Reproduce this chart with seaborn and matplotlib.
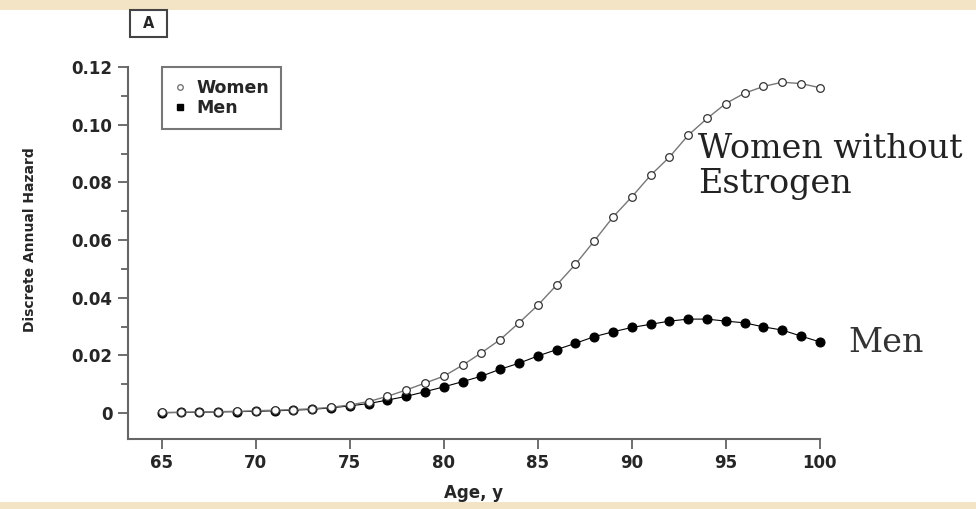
import matplotlib
matplotlib.use("Agg")
import matplotlib.pyplot as plt
import seaborn as sns
from matplotlib.lines import Line2D
from matplotlib.patches import Rectangle

# Discrete annual hazard by age
ages = list(range(65, 101))
women = [0.0002, 0.0003, 0.0004, 0.0005, 0.0006, 0.0008, 0.0010, 0.0012, 0.0015, 0.0020,
         0.0028, 0.0040, 0.0058, 0.0080, 0.0104, 0.0128, 0.0166, 0.0209, 0.0255, 0.0313,
         0.0374, 0.0444, 0.0516, 0.0597, 0.0680, 0.0750, 0.0825, 0.0888, 0.0964, 0.1022,
         0.1074, 0.1110, 0.1133, 0.1148, 0.1143, 0.1129]
men = [0.0001, 0.0002, 0.0003, 0.0004, 0.0005, 0.0006, 0.0008, 0.0010, 0.0013, 0.0018,
       0.0025, 0.0033, 0.0045, 0.0058, 0.0074, 0.0091, 0.0109, 0.0128, 0.0152, 0.0173,
       0.0198, 0.0220, 0.0242, 0.0265, 0.0282, 0.0297, 0.0308, 0.0319, 0.0326, 0.0326,
       0.0319, 0.0313, 0.0299, 0.0288, 0.0267, 0.0247]

x_ticks = [65, 70, 75, 80, 85, 90, 95, 100]
y_ticks = [0, 0.02, 0.04, 0.06, 0.08, 0.10, 0.12]
y_ticklabels = ["0", "0.02", "0.04", "0.06", "0.08", "0.10", "0.12"]

sns.set_style("ticks")
plt.rcParams['font.family'] = ['DejaVu Sans']

fig = plt.figure(figsize=(9.76, 5.09), dpi=100)
fig.patch.set_facecolor("white")
# beige strips top and bottom
fig.patches.append(Rectangle((0, 0.98), 1, 0.02, transform=fig.transFigure,
                             facecolor="#f4e4c6", edgecolor="none", zorder=0))
fig.patches.append(Rectangle((0, 0), 1, 0.014, transform=fig.transFigure,
                             facecolor="#f4e4c6", edgecolor="none", zorder=0))

ax = fig.add_axes([0.131, 0.1375, 0.709, 0.7305])

sns.lineplot(x=ages, y=women, ax=ax, color="#777777", lw=1.0, marker="o",
             markersize=5.5, markerfacecolor="white", markeredgecolor="#333333",
             markeredgewidth=0.9, clip_on=False, zorder=3)
sns.lineplot(x=ages, y=men, ax=ax, color="black", lw=0.8, marker="o",
             markersize=6.5, markerfacecolor="black", markeredgecolor="black",
             clip_on=False, zorder=2)

ax.set_xlim(63.2, 100)
ax.set_ylim(-0.009, 0.12)
ax.set_xticks(x_ticks)
ax.set_xticklabels([str(t) for t in x_ticks], fontsize=12, fontweight="bold")
ax.set_yticks(y_ticks)
ax.set_yticklabels(y_ticklabels, fontsize=12, fontweight="bold")
ax.set_yticks([0.01, 0.03, 0.05, 0.07, 0.09, 0.11], minor=True)
ax.tick_params(axis="both", which="major", length=7, width=1.2, color="#555555", pad=4)
ax.tick_params(axis="y", which="minor", length=5, width=1.2, color="#555555")
sns.despine(ax=ax)
for s in ["left", "bottom"]:
    ax.spines[s].set_color("#666666")
    ax.spines[s].set_linewidth(1.5)

ax.set_xlabel("Age, y", fontsize=12, fontweight="bold")
ax.xaxis.set_label_coords(0.5, -0.122)
ax.set_ylabel("Discrete Annual Hazard", fontsize=10, fontweight="bold")
ax.yaxis.set_label_coords(-0.132, 0.535)

handles = [Line2D([], [], ls="none", marker="o", markersize=4, markerfacecolor="white",
                  markeredgecolor="#777777"),
           Line2D([], [], ls="none", marker="s", markersize=4, markerfacecolor="black",
                  markeredgecolor="black")]
leg = ax.legend(handles, ["Women", "Men"], loc="upper left", bbox_to_anchor=(0.05, 1.0),
                borderaxespad=0, fancybox=False, frameon=True, handlelength=0.6,
                handletextpad=0.65, prop={"size": 12.5, "weight": "bold"},
                borderpad=0.7, labelspacing=0.1)
leg.get_frame().set_edgecolor("#555555")
leg.get_frame().set_linewidth(1.5)

# panel tag "A" in a box
fig.patches.append(Rectangle((0.1332, 0.9273), 0.0379, 0.053, transform=fig.transFigure,
                             facecolor="white", edgecolor="#444444", lw=1.5, zorder=2))
fig.text(0.1522, 0.9538, "A", fontsize=10.5, fontweight="bold", ha="center", va="center",
         zorder=3)

fig.text(0.715, 0.621, "Women without\nEstrogen", family="DejaVu Serif", fontsize=24,
         color="#222222", ha="left", va="baseline", linespacing=1.1)
fig.text(0.869, 0.3085, "Men", family="DejaVu Serif", fontsize=24, color="#333333",
         ha="left", va="baseline")

fig.savefig("out.png", dpi=100)
